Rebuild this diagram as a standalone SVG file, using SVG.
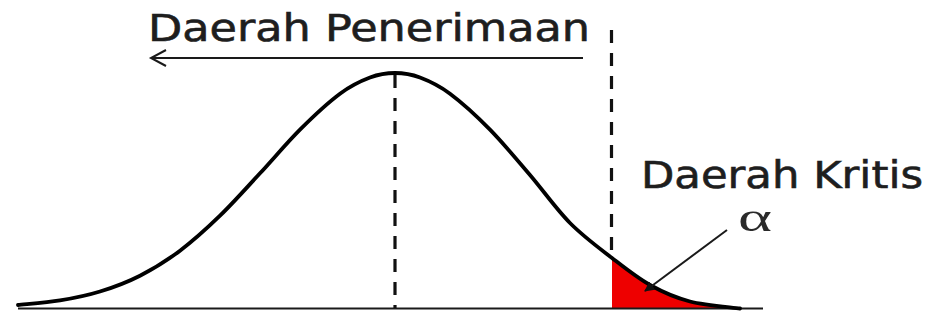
<svg xmlns="http://www.w3.org/2000/svg" width="940" height="320" viewBox="0 0 940 320">
<defs>
<style>
.lbl{font-family:"DejaVu Sans","Liberation Sans",sans-serif;font-size:37px;fill:#1e1e1e;stroke:#1e1e1e;stroke-width:0.6}
.greek{font-family:"Liberation Serif","DejaVu Serif",serif;font-size:40px;fill:#2a2a2a}
.dash{stroke:#111;stroke-width:3.2;stroke-dasharray:13 10;fill:none}
.thin{stroke:#1a1a1a;stroke-width:2;fill:none}
</style>
<marker id="tip" viewBox="0 0 10 10" refX="9" refY="5" markerWidth="5" markerHeight="5" orient="auto" markerUnits="strokeWidth">
<path d="M0,0 L10,5 L0,10 Z" fill="#111"/>
</marker>
</defs>
<rect width="940" height="320" fill="#fff"/>
<g id="critical-area">
<path d="M612,258 C625.3,268.3 637,277.75 650,285 C663,292.25 675,297.6 690,301.5 C705,305.4 731.7,307.3 740,308.5 L612,308.5 Z" fill="#ee0000"/>
</g>
<g id="axis">
<line x1="18" y1="308.5" x2="763" y2="308.5" class="thin"/>
</g>
<g id="curve">
<path d="M18,305 C25,304.2 46.3,302.65 60,300.4 C73.7,298.15 86.7,295.6 100,291.5 C113.3,287.4 126.7,282.5 140,275.7 C153.3,268.9 166.7,260.7 180,250.7 C193.3,240.7 206.7,228.6 220,215.7 C233.3,202.8 246.7,187.65 260,173.3 C273.3,158.95 286.7,142.9 300,129.6 C313.3,116.3 328.3,102.4 340,93.7 C351.7,85 360.8,80.95 370,77.5 C379.2,74.05 386.7,73 395,73 C403.3,73 410.8,74.05 420,77.5 C429.2,80.95 438.3,85 450,93.7 C461.7,102.4 476.7,116.05 490,129.6 C503.3,143.15 516.7,159.4 530,175 C543.3,190.6 556.3,209.2 570,223 C583.7,236.8 598.7,247.7 612,258 C625.3,268.3 637,277.75 650,285 C663,292.25 675,297.6 690,301.5 C705,305.4 731.7,307.3 740,308.5" fill="none" stroke="#000" stroke-width="3.8" stroke-linecap="round" stroke-linejoin="round"/>
</g>
<g id="mean-line">
<line x1="395" y1="75" x2="395" y2="308" class="dash"/>
</g>
<g id="critical-line">
<line x1="611.5" y1="30" x2="611.5" y2="258" class="dash"/>
</g>
<g id="label-acceptance">
<text x="148" y="41" class="lbl" textLength="442" lengthAdjust="spacingAndGlyphs">Daerah Penerimaan</text>
</g>
<g id="label-critical">
<text x="641" y="188" class="lbl" textLength="282" lengthAdjust="spacingAndGlyphs">Daerah Kritis</text>
</g>
<g id="label-alpha">
<text x="738" y="231" class="greek" textLength="34" lengthAdjust="spacingAndGlyphs">α</text>
</g>
<g id="connectors">
<line x1="583" y1="58" x2="152" y2="58" class="thin"/>
<polyline points="166,50 151,58 166,66" class="thin"/>
<line x1="727" y1="230" x2="645" y2="291" class="thin" marker-end="url(#tip)"/>
</g>
</svg>
